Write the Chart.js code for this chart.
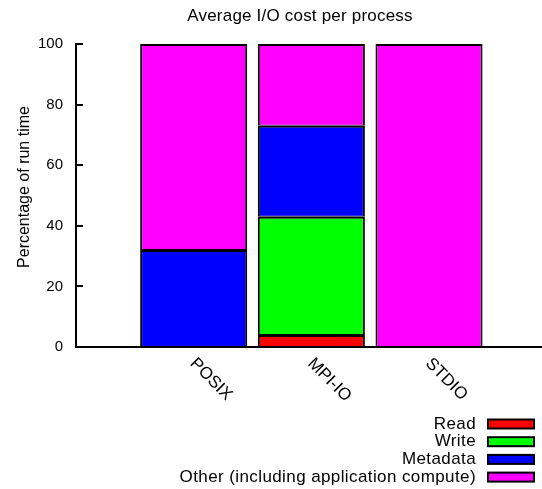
<!DOCTYPE html>
<html>
<head>
<meta charset="utf-8">
<script src="https://cdn.jsdelivr.net/npm/chart.js@4"></script>
<style>
  html, body { margin: 0; padding: 0; background: #fff; }
  #wrap { width: 542px; height: 489px; }
</style>
</head>
<body>
<div id="wrap"><canvas id="c" width="542" height="489"></canvas></div>
<script>
const titleText = 'Average I/O cost per process';
const yTitle = 'Percentage of run time';
const categories = ['POSIX', 'MPI-IO', 'STDIO'];
const seriesNames = ['Read', 'Write', 'Metadata', 'Other (including application compute)'];
const readPct = [0, 4, 0];
const writePct = [0, 39, 0];
const metadataPct = [32, 30, 0];
const otherPct = [68, 27, 100];
const yTicks = [0, 20, 40, 60, 80, 100];

const colors = ['#ff0000', '#00ff00', '#0000ff', '#ff00ff'];
const seriesValues = [readPct, writePct, metadataPct, otherPct];
const FONT = '"Liberation Sans", Arial, sans-serif';

const datasets = seriesValues.map((vals, s) => ({
  label: seriesNames[s],
  data: vals.map((v, i) => ({ x: i, y: v })),
  backgroundColor: colors[s],
  borderColor: '#000',
  borderWidth: { top: 2, left: 2, right: 2, bottom: 1 },
  borderSkipped: false,
  inflateAmount: 0,
  barPercentage: 0.91,
  categoryPercentage: 1.0
}));

function setSpacing(ctx, px) {
  if ('letterSpacing' in ctx) ctx.letterSpacing = px + 'px';
}

const extras = {
  id: 'extras',
  afterDraw(chart) {
    const { ctx, chartArea, scales: { x, y } } = chart;
    ctx.save();
    // inward y ticks
    ctx.strokeStyle = '#000';
    ctx.lineWidth = 2;
    yTicks.forEach(v => {
      const py = Math.round(y.getPixelForValue(v));
      ctx.beginPath();
      ctx.moveTo(chartArea.left, py);
      ctx.lineTo(chartArea.left + 7, py);
      ctx.stroke();
    });
    ctx.fillStyle = '#000';
    // title
    ctx.font = '17px ' + FONT;
    setSpacing(ctx, 0.2);
    ctx.textAlign = 'center';
    ctx.textBaseline = 'middle';
    ctx.fillText(titleText, 300, 16);
    setSpacing(ctx, 0);
    // y title
    ctx.save();
    ctx.translate(25, 187);
    ctx.rotate(-Math.PI / 2);
    ctx.font = '16px ' + FONT;
    ctx.fillText(yTitle, 0, 0);
    ctx.restore();
    // x category labels, rotated clockwise
    ctx.font = '17px ' + FONT;
    categories.forEach((c, i) => {
      const px = x.getPixelForValue(i);
      ctx.save();
      ctx.translate(px - 1, 361);
      ctx.rotate(Math.PI / 4);
      ctx.textAlign = 'left';
      ctx.textBaseline = 'middle';
      ctx.fillText(c, 0, 0);
      ctx.restore();
    });
    // legend
    ctx.font = '17px ' + FONT;
    setSpacing(ctx, 0.4);
    ctx.textAlign = 'right';
    ctx.textBaseline = 'middle';
    seriesNames.forEach((n, i) => {
      const cy = 424 + i * 17.7;
      ctx.fillStyle = '#000';
      ctx.fillText(n, 476, cy);
      ctx.fillStyle = colors[i];
      ctx.fillRect(488, cy - 4.5, 46, 9);
      ctx.strokeStyle = '#000';
      ctx.lineWidth = 2;
      ctx.strokeRect(488, cy - 4.5, 46, 9);
    });
    ctx.restore();
  }
};

new Chart(document.getElementById('c'), {
  type: 'bar',
  data: { datasets },
  options: {
    responsive: false,
    animation: false,
    layout: { padding: { top: 44, left: 0, right: 0, bottom: 0 } },
    plugins: {
      legend: { display: false },
      title: { display: false },
      tooltip: { enabled: false }
    },
    scales: {
      x: {
        type: 'linear',
        stacked: true,
        offset: false,
        min: -1,
        max: 2.96,
        grid: { display: false, drawTicks: false, offset: false },
        border: { display: true, color: '#000', width: 2 },
        ticks: { display: false },
        afterBuildTicks(scale) { scale.ticks = categories.map((c, i) => ({ value: i })); },
        afterFit(scale) { scale.height = 142; }
      },
      y: {
        stacked: true,
        min: 0,
        max: 100,
        grid: { display: false, drawTicks: false },
        border: { display: true, color: '#000', width: 2 },
        ticks: {
          stepSize: 20,
          padding: 13,
          color: '#000',
          font: { family: FONT, size: 15 }
        },
        afterBuildTicks(scale) { scale.ticks = yTicks.map(v => ({ value: v })); },
        afterFit(scale) { scale.width = 76; }
      }
    }
  },
  plugins: [extras]
});
</script>
</body>
</html>
